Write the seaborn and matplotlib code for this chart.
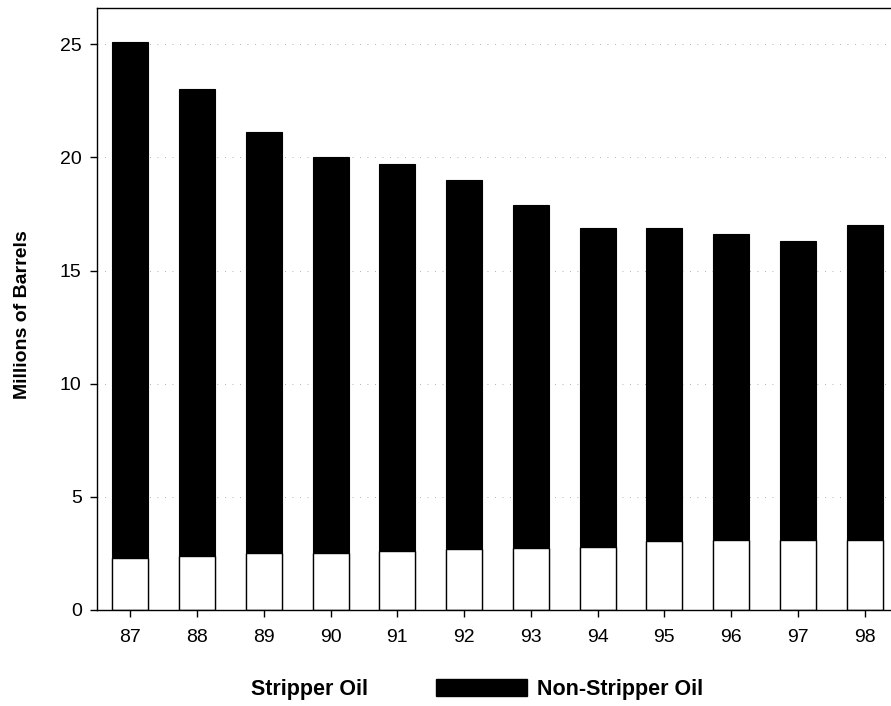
import matplotlib
matplotlib.use("Agg")
import matplotlib.pyplot as plt
from matplotlib.patches import Patch
import seaborn as sns
import pandas as pd

years = ["87", "88", "89", "90", "91", "92", "93", "94", "95", "96", "97", "98"]
stripper = [2.3, 2.4, 2.5, 2.5, 2.6, 2.7, 2.75, 2.8, 3.05, 3.1, 3.1, 3.1]
total = [25.1, 23.0, 21.1, 20.0, 19.7, 19.0, 17.9, 16.9, 16.9, 16.6, 16.3, 17.0]
non_stripper = [t - s for t, s in zip(total, stripper)]
yticks = [0, 5, 10, 15, 20, 25]

df = pd.DataFrame({"year": years, "stripper": stripper, "non_stripper": non_stripper})
df["total"] = df["stripper"] + df["non_stripper"]

sns.set_theme(style="ticks")
plt.rcParams["font.family"] = ["Liberation Sans", "DejaVu Sans"]
plt.rcParams["text.color"] = "black"

W, H = 891, 706
fig = plt.figure(figsize=(W / 100, H / 100), dpi=100)
ax = fig.add_axes([97 / W, (H - 610) / H, (898 - 97) / W, (610 - 8) / H])

sns.barplot(data=df, x="year", y="total", color="black", width=0.54,
            saturation=1, ax=ax, edgecolor="black", linewidth=0.8)
sns.barplot(data=df, x="year", y="stripper", color="white", width=0.54,
            saturation=1, ax=ax, edgecolor="black", linewidth=1.0)

ax.set_xlim(-0.5, 11.5)
ax.set_ylim(0, 26.6)
ax.set_yticks(yticks)
ax.set_yticklabels([str(v) for v in yticks])
for v in yticks[1:]:
    ax.axhline(v, color="#999999", lw=0.6, ls=(0, (1, 8)), zorder=0)

ax.tick_params(axis="both", labelsize=14, length=5, width=1, color="black",
               labelcolor="black", direction="out")
ax.tick_params(axis="x", pad=9)
ax.tick_params(axis="y", pad=6)
for sp in ax.spines.values():
    sp.set_color("black")
    sp.set_linewidth(1.0)

ax.set_xlabel("")
ax.set_ylabel("Millions of Barrels", fontsize=14, fontweight="bold",
              color="black")
ax.yaxis.set_label_coords(-0.082, 0.49)

handles = [Patch(facecolor="white", edgecolor="white", label="Stripper Oil"),
           Patch(facecolor="black", edgecolor="black", label="Non-Stripper Oil")]
fig.legend(handles=handles, loc="center", bbox_to_anchor=(427 / W, 1 - 689 / H),
           ncol=2, frameon=False, prop={"weight": "bold", "size": 15.5},
           handlelength=4.2, handleheight=0.84, handletextpad=0.47,
           columnspacing=3.16, labelcolor="black")

fig.savefig("out.png", dpi=100)
